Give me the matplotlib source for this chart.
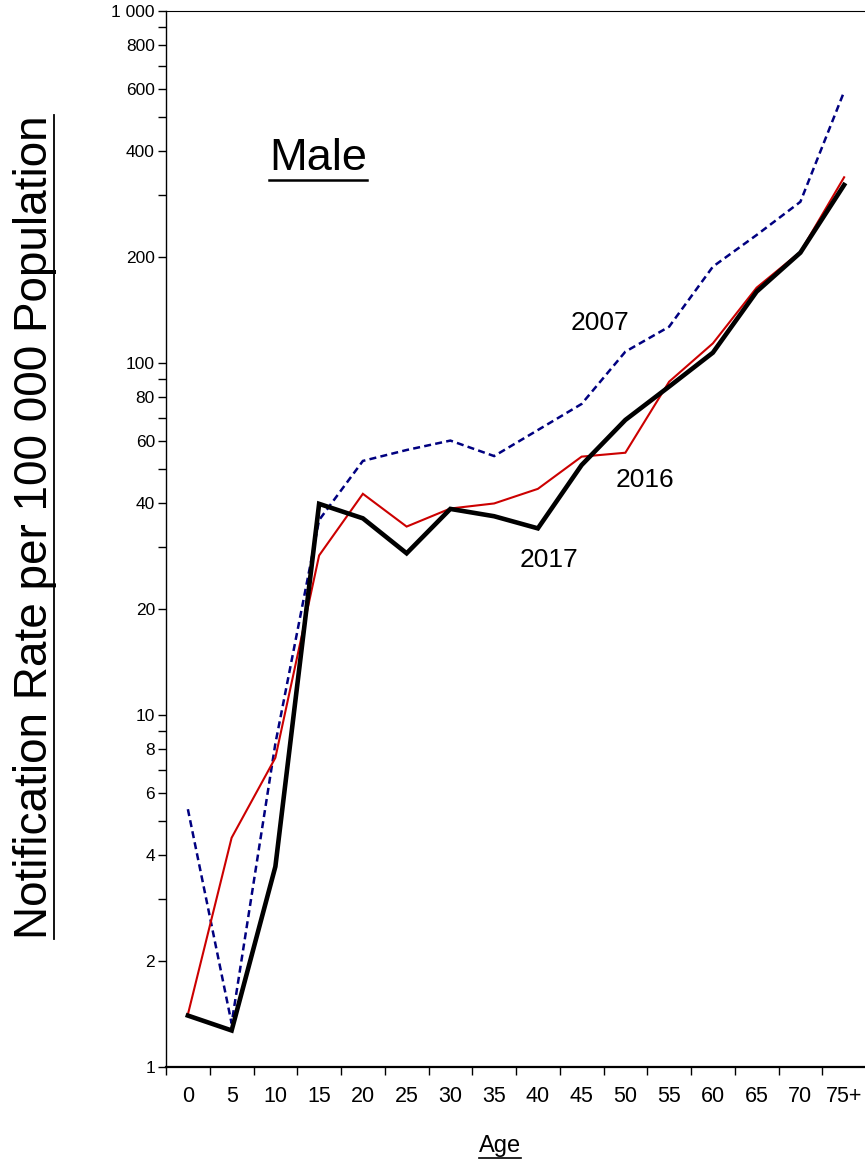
import matplotlib
matplotlib.use("Agg")
import matplotlib.pyplot as plt
from matplotlib.lines import Line2D
from matplotlib.ticker import FixedLocator, NullFormatter

plt.rcParams['font.family'] = ['Liberation Sans', 'DejaVu Sans']

# Notification rates per 100 000 male population by age group
ages = ['0', '5', '10', '15', '20', '25', '30', '35', '40', '45',
        '50', '55', '60', '65', '70', '75+']
rate_2007 = [5.4, 1.33, 8.3, 35.8, 52.7, 56.6, 60.2, 54.4, 64.5, 76.5,
             107.7, 126.8, 187.8, 231, 287, 590]
rate_2016 = [1.41, 4.48, 7.56, 28.4, 42.5, 34.3, 38.6, 39.9, 43.9, 54.2,
             55.6, 88.5, 113.7, 163.7, 207, 337]
rate_2017 = [1.40, 1.27, 3.71, 39.8, 36.2, 28.8, 38.5, 36.7, 33.9, 51.3,
             68.9, 85.7, 107, 159.5, 205.8, 320.5]

y_major = [1, 2, 4, 6, 8, 10, 20, 40, 60, 80, 100, 200, 400, 600, 800, 1000]
y_major_labels = ['1', '2', '4', '6', '8', '10', '20', '40', '60', '80',
                  '100', '200', '400', '600', '800', '1 000']
y_minor = [3, 5, 7, 9, 30, 50, 70, 90, 300, 500, 700, 900]

W, H = 865, 1163
fig = plt.figure(figsize=(W / 100, H / 100), dpi=100)
ax = fig.add_axes([166 / W, 1 - 1067 / H, 700 / W, (1067 - 11) / H])

x = list(range(len(ages)))
ax.plot(x, rate_2007, color='#000080', lw=1.8, linestyle=(0, (2.8, 1.7)),
        solid_joinstyle='miter', dash_joinstyle='miter', zorder=2)
ax.plot(x, rate_2016, color='#CC0000', lw=1.5, solid_joinstyle='miter', zorder=3)
ax.plot(x, rate_2017, color='black', lw=3.3, solid_joinstyle='miter', zorder=4)

ax.set_yscale('log')
ax.set_ylim(1, 1000)
ax.set_xlim(-0.5, 15.5)

ax.yaxis.set_major_locator(FixedLocator(y_major))
ax.yaxis.set_minor_locator(FixedLocator(y_minor))
ax.set_yticklabels(y_major_labels)
ax.yaxis.set_minor_formatter(NullFormatter())
ax.tick_params(axis='y', which='both', direction='out', length=6, width=1,
               pad=2, labelsize=12.5)

ax.xaxis.set_major_locator(FixedLocator(x))
ax.set_xticklabels(ages)
ax.xaxis.set_minor_locator(FixedLocator([i - 0.5 for i in range(len(ages))]))
ax.tick_params(axis='x', which='major', length=0, pad=14, labelsize=15.5)
ax.tick_params(axis='x', which='minor', direction='out', length=6, width=1)

ax.spines['right'].set_visible(False)
ax.spines['left'].set_linewidth(1.0)
ax.spines['top'].set_linewidth(0.8)
ax.spines['bottom'].set_linewidth(1.6)

# Series labels
ax.text(9.42, 124, '2007', fontsize=19, ha='center', va='baseline')
ax.text(10.45, 44.4, '2016', fontsize=19, ha='center', va='baseline')
ax.text(8.26, 26.3, '2017', fontsize=19, ha='center', va='baseline')

# Titles placed by pixel position measured from the top-left corner
def fig_xy(px, py):
    return px / W, 1 - py / H

t_male = fig.text(*fig_xy(318, 170), 'Male', fontsize=32.5, ha='center',
                  va='baseline')
t_age = fig.text(*fig_xy(500, 1152), 'Age', fontsize=17, ha='center',
                 va='baseline')
t_ylab = fig.text(*fig_xy(47, 527), 'Notification Rate per 100 000 Population',
                  fontsize=33, rotation=90, ha='center', va='baseline',
                  rotation_mode='anchor')

fig.canvas.draw()
renderer = fig.canvas.get_renderer()


def underline_h(t, py, lw):
    bb = t.get_window_extent(renderer)
    yy = H - py
    fig.add_artist(Line2D([bb.x0, bb.x1], [yy, yy], transform=None,
                          color='black', lw=lw))


def underline_v(t, px, lw):
    bb = t.get_window_extent(renderer)
    fig.add_artist(Line2D([px, px], [bb.y0, bb.y1], transform=None,
                          color='black', lw=lw))


underline_h(t_male, 180, 1.8)
underline_h(t_age, 1158, 1.2)
underline_v(t_ylab, 54, 1.3)

fig.savefig('out.png', dpi=100)
